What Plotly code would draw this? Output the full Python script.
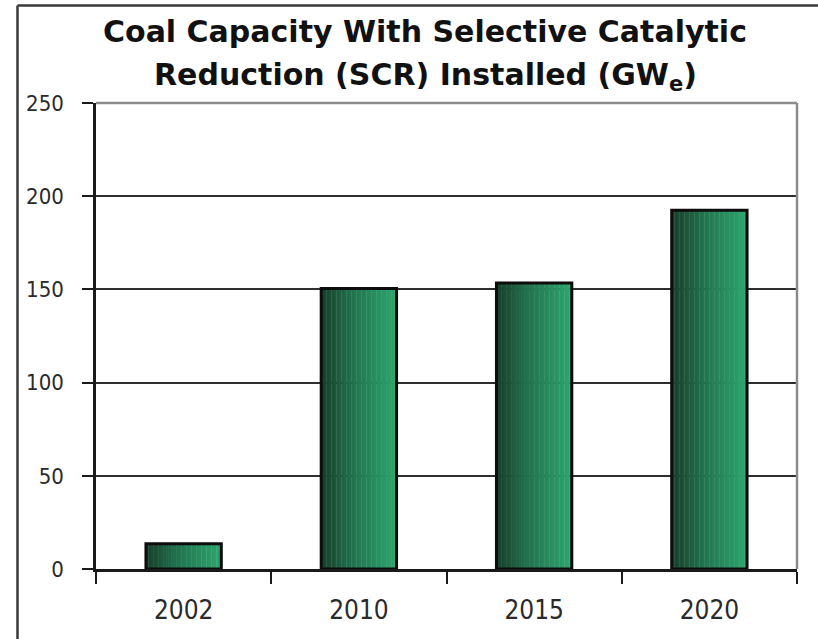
import plotly.graph_objects as go

# ---- data ----
years = ["2002", "2010", "2015", "2020"]
capacity_gw = [13.5, 150.5, 153.5, 192.5]
y_ticks = [0, 50, 100, 150, 200, 250]

title_line1 = "Coal Capacity With Selective Catalytic"
title_line2 = "Reduction (SCR) Installed (GW<sub>e</sub>)"

# ---- styling ----
BAR_W = 0.43
N_SLICES = 30
dark = (0x16, 0x3f, 0x2b)
mid = (0x22, 0x76, 0x50)
light = (0x2f, 0xa6, 0x6f)


def grad(t):
    if t < 0.45:
        a, b, u = dark, mid, t / 0.45
    else:
        a, b, u = mid, light, (t - 0.45) / 0.55
    c = [round(a[i] + (b[i] - a[i]) * u) for i in range(3)]
    return "rgb(%d,%d,%d)" % tuple(c)


fig = go.Figure()
sw = BAR_W / N_SLICES
for k in range(N_SLICES):
    t = (k + 0.5) / N_SLICES
    fig.add_trace(go.Bar(
        x=years, y=capacity_gw,
        width=sw * 1.15 if k < N_SLICES - 1 else sw,
        offset=-BAR_W / 2 + k * sw,
        marker=dict(color=grad(t), line=dict(width=0)),
        hoverinfo="skip", showlegend=False,
    ))
# outline
fig.add_trace(go.Bar(
    x=years, y=capacity_gw, width=BAR_W, offset=-BAR_W / 2,
    marker=dict(color="rgba(0,0,0,0)", line=dict(color="#0d0d0d", width=3)),
    hoverinfo="skip", showlegend=False,
))

tick_family = "Liberation Sans Narrow, DejaVu Sans Condensed, Arial Narrow, sans-serif"

PW, PH = 818, 639
ML, MT, PLOT_W, PLOT_H = 96, 103, 701, 466
BOTTOM = MT + PLOT_H  # pixel y of value 0

frame_top = (BOTTOM - 5.5) / PLOT_H
frame_left = (17.5 - ML) / PLOT_W
frame_right = (PW + 2 - ML) / PLOT_W
frame_bottom = -(PH + 2 - BOTTOM) / PLOT_H

fig.update_layout(
    width=PW, height=PH,
    margin=dict(l=ML, r=PW - ML - PLOT_W, t=MT, b=PH - MT - PLOT_H),
    paper_bgcolor="white", plot_bgcolor="white",
    barmode="overlay",
    showlegend=False,
    hovermode=False,
    xaxis=dict(
        type="category",
        categoryorder="array", categoryarray=years,
        tickmode="array", tickvals=years,
        tickson="boundaries",
        ticks="outside", ticklen=12, tickwidth=2, tickcolor="#1a1a1a",
        showline=True, linecolor="#1a1a1a", linewidth=2.5,
        showgrid=False, zeroline=False,
        tickfont=dict(family=tick_family, size=26, color="#2a2a2a"),
        ticklabelstandoff=16,
        range=[-0.5, 3.5],
    ),
    yaxis=dict(
        range=[0, 250],
        tickmode="array", tickvals=y_ticks,
        ticks="outside", ticklen=11, tickwidth=2, tickcolor="#1a1a1a",
        showline=True, linecolor="#1a1a1a", linewidth=2.5,
        showgrid=True, gridcolor="#2e2e2e", gridwidth=2,
        zeroline=False,
        tickfont=dict(family=tick_family, size=22, color="#2a2a2a"),
        ticklabelstandoff=14,
    ),
    shapes=[
        # plot-area top & right border (grey)
        dict(type="line", xref="paper", yref="paper", x0=0, x1=1, y0=1, y1=1,
             line=dict(color="#8c8c8c", width=2.5), layer="above"),
        dict(type="line", xref="paper", yref="paper", x0=1, x1=1, y0=0, y1=1,
             line=dict(color="#8c8c8c", width=2.5), layer="above"),
        # outer frame: left and top edges
        dict(type="line", xref="paper", yref="paper",
             x0=frame_left, x1=frame_left, y0=frame_bottom, y1=frame_top,
             line=dict(color="#3a3a3a", width=2.5), layer="above"),
        dict(type="line", xref="paper", yref="paper",
             x0=frame_left, x1=frame_right, y0=frame_top, y1=frame_top,
             line=dict(color="#3a3a3a", width=2.5), layer="above"),
    ],
    annotations=[
        dict(text="<b>" + title_line1 + "</b>", xref="paper", yref="paper",
             x=(425 - ML) / PLOT_W, y=(BOTTOM - 31) / PLOT_H,
             xanchor="center", yanchor="middle", showarrow=False,
             font=dict(family="DejaVu Sans, Verdana, sans-serif", size=30, color="#111")),
        dict(text="<b>" + title_line2 + "</b>", xref="paper", yref="paper",
             x=(425 - ML) / PLOT_W, y=(BOTTOM - 76) / PLOT_H,
             xanchor="center", yanchor="middle", showarrow=False,
             font=dict(family="DejaVu Sans, Verdana, sans-serif", size=30, color="#111")),
    ],
)

fig.write_html("out.html", config={"displayModeBar": False},
               post_script="document.body.style.margin='0';")
